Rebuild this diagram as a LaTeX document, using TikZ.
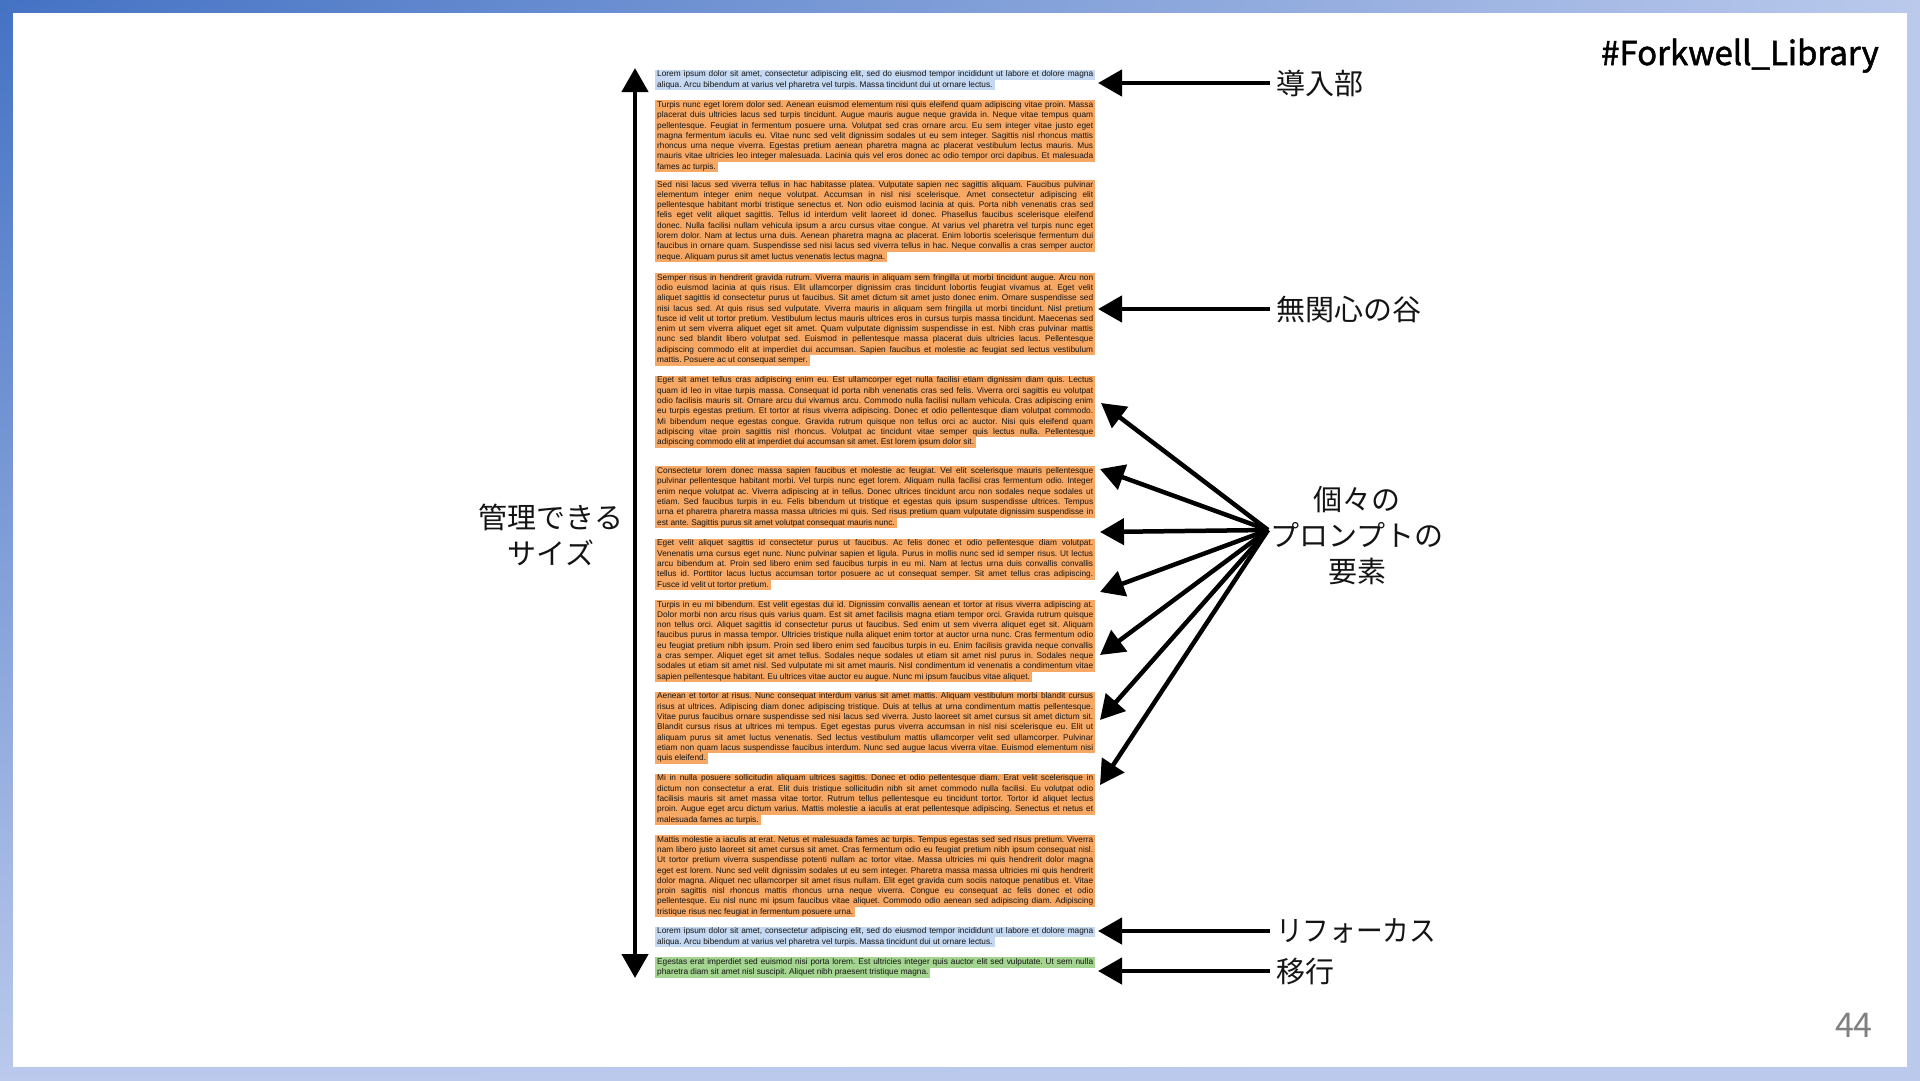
\documentclass[tikz,border=0pt]{standalone}
\usepackage{fontspec}
\setmainfont{Liberation Sans}
\newfontfamily\jp{Noto Sans CJK JP}
\newfontfamily\jphead[FakeBold=1.6]{Noto Sans CJK JP}
\usetikzlibrary{arrows.meta,shadings}
\definecolor{hlorange}{RGB}{247,168,100}
\definecolor{hlblue}{RGB}{196,216,241}
\definecolor{hlgreen}{RGB}{164,213,144}
\definecolor{framedark}{RGB}{68,114,196}
\definecolor{framelight}{RGB}{186,201,236}
\definecolor{pagegray}{RGB}{128,128,128}
\newcount\hlcnt
\newcommand\hlblock[2]{\gdef\hlbase{#1}\gdef\hlcol{#2}\global\hlcnt=0\relax}
\newcommand\hlfull[2]{\pgfmathsetmacro\hly{\hlbase+\the\hlcnt*10.29}\node[hl,fill=\hlcol] (#1) at (655,\hly) {\makebox[436pt][s]{#2}};\global\advance\hlcnt by 1\relax}
\newcommand\hllast[2]{\pgfmathsetmacro\hly{\hlbase+\the\hlcnt*10.29}\node[hl,fill=\hlcol] (#1) at (655,\hly) {#2};\global\advance\hlcnt by 1\relax}
\frenchspacing
\begin{document}
\begin{tikzpicture}[x=1pt,y=-1pt,
  hl/.style={anchor=west,inner xsep=2pt,inner ysep=0pt,minimum height=10.4pt,text=black!92,font=\fontsize{8.3}{9}\selectfont\frenchspacing},
  jplabel/.style={font=\jp\fontsize{29}{36}\selectfont,inner sep=0pt,text=black!92},
  arr/.style={line width=4.5pt,-{Triangle[length=24pt,width=26pt]}},
  darr/.style={line width=4.5pt,{Triangle[length=24pt,width=26pt]}-{Triangle[length=24pt,width=26pt]}}]
\useasboundingbox (0,0) rectangle (1920,1080);
% frame
\shade[upper left=framedark,upper right=framelight,lower left=framelight,lower right=framelight] (0,0) rectangle (1920,1080);
\fill[white] (13,13) rectangle (1907,1067);
% header and page number
\node[font=\jphead\fontsize{33}{36}\selectfont,anchor=base east,inner sep=0pt] (hdr) at (1879,65) {\#Forkwell\_Library};
\node[font=\jp\fontsize{34}{40}\selectfont,text=pagegray,anchor=base east,inner sep=0pt] (pg) at (1873,1037) {44};

% ---- text blocks ----
\hlblock{74.7}{hlblue}
\hlfull{b1a}{Lorem ipsum dolor sit amet, consectetur adipiscing elit, sed do eiusmod tempor incididunt ut labore et dolore magna}
\hllast{b1b}{aliqua. Arcu bibendum at varius vel pharetra vel turpis. Massa tincidunt dui ut ornare lectus.}

\hlblock{105.3}{hlorange}
\hlfull{b2a}{Turpis nunc eget lorem dolor sed. Aenean euismod elementum nisi quis eleifend quam adipiscing vitae proin. Massa}
\hlfull{b2b}{placerat duis ultricies lacus sed turpis tincidunt. Augue mauris augue neque gravida in. Neque vitae tempus quam}
\hlfull{b2c}{pellentesque. Feugiat in fermentum posuere urna. Volutpat sed cras ornare arcu. Eu sem integer vitae justo eget}
\hlfull{b2d}{magna fermentum iaculis eu. Vitae nunc sed velit dignissim sodales ut eu sem integer. Sagittis nisl rhoncus mattis}
\hlfull{b2e}{rhoncus urna neque viverra. Egestas pretium aenean pharetra magna ac placerat vestibulum lectus mauris. Mus}
\hlfull{b2f}{mauris vitae ultricies leo integer malesuada. Lacinia quis vel eros donec ac odio tempor orci dapibus. Et malesuada}
\hllast{b2g}{fames ac turpis.}

\hlblock{184.9}{hlorange}
\hlfull{b3a}{Sed nisi lacus sed viverra tellus in hac habitasse platea. Vulputate sapien nec sagittis aliquam. Faucibus pulvinar}
\hlfull{b3b}{elementum integer enim neque volutpat. Accumsan in nisl nisi scelerisque. Amet consectetur adipiscing elit}
\hlfull{b3c}{pellentesque habitant morbi tristique senectus et. Non odio euismod lacinia at quis. Porta nibh venenatis cras sed}
\hlfull{b3d}{felis eget velit aliquet sagittis. Tellus id interdum velit laoreet id donec. Phasellus faucibus scelerisque eleifend}
\hlfull{b3e}{donec. Nulla facilisi nullam vehicula ipsum a arcu cursus vitae congue. At varius vel pharetra vel turpis nunc eget}
\hlfull{b3f}{lorem dolor. Nam at lectus urna duis. Aenean pharetra magna ac placerat. Enim lobortis scelerisque fermentum dui}
\hlfull{b3g}{faucibus in ornare quam. Suspendisse sed nisi lacus sed viverra tellus in hac. Neque convallis a cras semper auctor}
\hllast{b3h}{neque. Aliquam purus sit amet luctus venenatis lectus magna.}

\hlblock{278.0}{hlorange}
\hlfull{b4a}{Semper risus in hendrerit gravida rutrum. Viverra mauris in aliquam sem fringilla ut morbi tincidunt augue. Arcu non}
\hlfull{b4b}{odio euismod lacinia at quis risus. Elit ullamcorper dignissim cras tincidunt lobortis feugiat vivamus at. Eget velit}
\hlfull{b4c}{aliquet sagittis id consectetur purus ut faucibus. Sit amet dictum sit amet justo donec enim. Ornare suspendisse sed}
\hlfull{b4d}{nisi lacus sed. At quis risus sed vulputate. Viverra mauris in aliquam sem fringilla ut morbi tincidunt. Nisl pretium}
\hlfull{b4e}{fusce id velit ut tortor pretium. Vestibulum lectus mauris ultrices eros in cursus turpis massa tincidunt. Maecenas sed}
\hlfull{b4f}{enim ut sem viverra aliquet eget sit amet. Quam vulputate dignissim suspendisse in est. Nibh cras pulvinar mattis}
\hlfull{b4g}{nunc sed blandit libero volutpat sed. Euismod in pellentesque massa placerat duis ultricies lacus. Pellentesque}
\hlfull{b4h}{adipiscing commodo elit at imperdiet dui accumsan. Sapien faucibus et molestie ac feugiat sed lectus vestibulum}
\hllast{b4i}{mattis. Posuere ac ut consequat semper.}

\hlblock{380.8}{hlorange}
\hlfull{b5a}{Eget sit amet tellus cras adipiscing enim eu. Est ullamcorper eget nulla facilisi etiam dignissim diam quis. Lectus}
\hlfull{b5b}{quam id leo in vitae turpis massa. Consequat id porta nibh venenatis cras sed felis. Viverra orci sagittis eu volutpat}
\hlfull{b5c}{odio facilisis mauris sit. Ornare arcu dui vivamus arcu. Commodo nulla facilisi nullam vehicula. Cras adipiscing enim}
\hlfull{b5d}{eu turpis egestas pretium. Et tortor at risus viverra adipiscing. Donec et odio pellentesque diam volutpat commodo.}
\hlfull{b5e}{Mi bibendum neque egestas congue. Gravida rutrum quisque non tellus orci ac auctor. Nisi quis eleifend quam}
\hlfull{b5f}{adipiscing vitae proin sagittis nisl rhoncus. Volutpat ac tincidunt vitae semper quis lectus nulla. Pellentesque}
\hllast{b5g}{adipiscing commodo elit at imperdiet dui accumsan sit amet. Est lorem ipsum dolor sit.}

\hlblock{471.4}{hlorange}
\hlfull{b6a}{Consectetur lorem donec massa sapien faucibus et molestie ac feugiat. Vel elit scelerisque mauris pellentesque}
\hlfull{b6b}{pulvinar pellentesque habitant morbi. Vel turpis nunc eget lorem. Aliquam nulla facilisi cras fermentum odio. Integer}
\hlfull{b6c}{enim neque volutpat ac. Viverra adipiscing at in tellus. Donec ultrices tincidunt arcu non sodales neque sodales ut}
\hlfull{b6d}{etiam. Sed faucibus turpis in eu. Felis bibendum ut tristique et egestas quis ipsum suspendisse ultrices. Tempus}
\hlfull{b6e}{urna et pharetra pharetra massa massa ultricies mi quis. Sed risus pretium quam vulputate dignissim suspendisse in}
\hllast{b6f}{est ante. Sagittis purus sit amet volutpat consequat mauris nunc.}

\hlblock{543.7}{hlorange}
\hlfull{b7a}{Eget velit aliquet sagittis id consectetur purus ut faucibus. Ac felis donec et odio pellentesque diam volutpat.}
\hlfull{b7b}{Venenatis urna cursus eget nunc. Nunc pulvinar sapien et ligula. Purus in mollis nunc sed id semper risus. Ut lectus}
\hlfull{b7c}{arcu bibendum at. Proin sed libero enim sed faucibus turpis in eu mi. Nam at lectus urna duis convallis convallis}
\hlfull{b7d}{tellus id. Porttitor lacus luctus accumsan tortor posuere ac ut consequat semper. Sit amet tellus cras adipiscing.}
\hllast{b7e}{Fusce id velit ut tortor pretium.}

\hlblock{604.9}{hlorange}
\hlfull{b8a}{Turpis in eu mi bibendum. Est velit egestas dui id. Dignissim convallis aenean et tortor at risus viverra adipiscing at.}
\hlfull{b8b}{Dolor morbi non arcu risus quis varius quam. Est sit amet facilisis magna etiam tempor orci. Gravida rutrum quisque}
\hlfull{b8c}{non tellus orci. Aliquet sagittis id consectetur purus ut faucibus. Sed enim ut sem viverra aliquet eget sit. Aliquam}
\hlfull{b8d}{faucibus purus in massa tempor. Ultricies tristique nulla aliquet enim tortor at auctor urna nunc. Cras fermentum odio}
\hlfull{b8e}{eu feugiat pretium nibh ipsum. Proin sed libero enim sed faucibus turpis in eu. Enim facilisis gravida neque convallis}
\hlfull{b8f}{a cras semper. Aliquet eget sit amet tellus. Sodales neque sodales ut etiam sit amet nisl purus in. Sodales neque}
\hlfull{b8g}{sodales ut etiam sit amet nisl. Sed vulputate mi sit amet mauris. Nisl condimentum id venenatis a condimentum vitae}
\hllast{b8h}{sapien pellentesque habitant. Eu ultrices vitae auctor eu augue. Nunc mi ipsum faucibus vitae aliquet.}

\hlblock{696.7}{hlorange}
\hlfull{b9a}{Aenean et tortor at risus. Nunc consequat interdum varius sit amet mattis. Aliquam vestibulum morbi blandit cursus}
\hlfull{b9b}{risus at ultrices. Adipiscing diam donec adipiscing tristique. Duis at tellus at urna condimentum mattis pellentesque.}
\hlfull{b9c}{Vitae purus faucibus ornare suspendisse sed nisi lacus sed viverra. Justo laoreet sit amet cursus sit amet dictum sit.}
\hlfull{b9d}{Blandit cursus risus at ultrices mi tempus. Eget egestas purus viverra accumsan in nisl nisi scelerisque eu. Elit ut}
\hlfull{b9e}{aliquam purus sit amet luctus venenatis. Sed lectus vestibulum mattis ullamcorper velit sed ullamcorper. Pulvinar}
\hlfull{b9f}{etiam non quam lacus suspendisse faucibus interdum. Nunc sed augue lacus viverra vitae. Euismod elementum nisi}
\hllast{b9g}{quis eleifend.}

\hlblock{778.8}{hlorange}
\hlfull{b10a}{Mi in nulla posuere sollicitudin aliquam ultrices sagittis. Donec et odio pellentesque diam. Erat velit scelerisque in}
\hlfull{b10b}{dictum non consectetur a erat. Elit duis tristique sollicitudin nibh sit amet commodo nulla facilisi. Eu volutpat odio}
\hlfull{b10c}{facilisis mauris sit amet massa vitae tortor. Rutrum tellus pellentesque eu tincidunt tortor. Tortor id aliquet lectus}
\hlfull{b10d}{proin. Augue eget arcu dictum varius. Mattis molestie a iaculis at erat pellentesque adipiscing. Senectus et netus et}
\hllast{b10e}{malesuada fames ac turpis.}

\hlblock{840.0}{hlorange}
\hlfull{b11a}{Mattis molestie a iaculis at erat. Netus et malesuada fames ac turpis. Tempus egestas sed sed risus pretium. Viverra}
\hlfull{b11b}{nam libero justo laoreet sit amet cursus sit amet. Cras fermentum odio eu feugiat pretium nibh ipsum consequat nisl.}
\hlfull{b11c}{Ut tortor pretium viverra suspendisse potenti nullam ac tortor vitae. Massa ultricies mi quis hendrerit dolor magna}
\hlfull{b11d}{eget est lorem. Nunc sed velit dignissim sodales ut eu sem integer. Pharetra massa massa ultricies mi quis hendrerit}
\hlfull{b11e}{dolor magna. Aliquet nec ullamcorper sit amet risus nullam. Elit eget gravida cum sociis natoque penatibus et. Vitae}
\hlfull{b11f}{proin sagittis nisl rhoncus mattis rhoncus urna neque viverra. Congue eu consequat ac felis donec et odio}
\hlfull{b11g}{pellentesque. Eu nisl nunc mi ipsum faucibus vitae aliquet. Commodo odio aenean sed adipiscing diam. Adipiscing}
\hllast{b11h}{tristique risus nec feugiat in fermentum posuere urna.}

\hlblock{931.8}{hlblue}
\hlfull{b12a}{Lorem ipsum dolor sit amet, consectetur adipiscing elit, sed do eiusmod tempor incididunt ut labore et dolore magna}
\hllast{b12b}{aliqua. Arcu bibendum at varius vel pharetra vel turpis. Massa tincidunt dui ut ornare lectus.}

\hlblock{962.5}{hlgreen}
\hlfull{b13a}{Egestas erat imperdiet sed euismod nisi porta lorem. Est ultricies integer quis auctor elit sed vulputate. Ut sem nulla}
\hllast{b13b}{pharetra diam sit amet nisl suscipit. Aliquet nibh praesent tristique magna.}

% ---- vertical double arrow ----
\coordinate (vtop) at (635,68);
\coordinate (vbot) at (635,978);
\draw[darr] (vtop) -- (vbot);
\node[jplabel,align=center] (size) at (551,535) {管理できる\\サイズ};

% ---- right labels ----
\coordinate (tipx) at (1098,0);
\node[jplabel,anchor=west] (intro) at (1276,83) {導入部};
\node[jplabel,anchor=west] (valley) at (1276,309) {無関心の谷};
\node[jplabel,anchor=west] (refocus) at (1276,931) {\scalebox{0.92}[1]{リフォーカス}};
\node[jplabel,anchor=west] (trans) at (1276,971) {移行};
\draw[arr,shorten <=6pt] (intro.west) -- (intro.west -| tipx);
\draw[arr,shorten <=6pt] (valley.west) -- (valley.west -| tipx);
\draw[arr,shorten <=6pt] (refocus.west) -- (refocus.west -| tipx);
\draw[arr,shorten <=6pt] (trans.west) -- (trans.west -| tipx);

% ---- fan ----
\node[jplabel,align=center] (elem) at (1357,536) {個々の\\プロンプトの\\要素};
\coordinate (fo) at (1268,530);
\coordinate (f1) at (1101,403);
\coordinate (f2) at (1100,469);
\coordinate (f3) at (1100,532);
\coordinate (f4) at (1100,592);
\coordinate (f5) at (1100,655);
\coordinate (f6) at (1100,720);
\coordinate (f7) at (1100,785);
\foreach \t in {f1,f2,f3,f4,f5,f6,f7} \draw[arr] (fo) -- (\t);
\end{tikzpicture}
\end{document}
